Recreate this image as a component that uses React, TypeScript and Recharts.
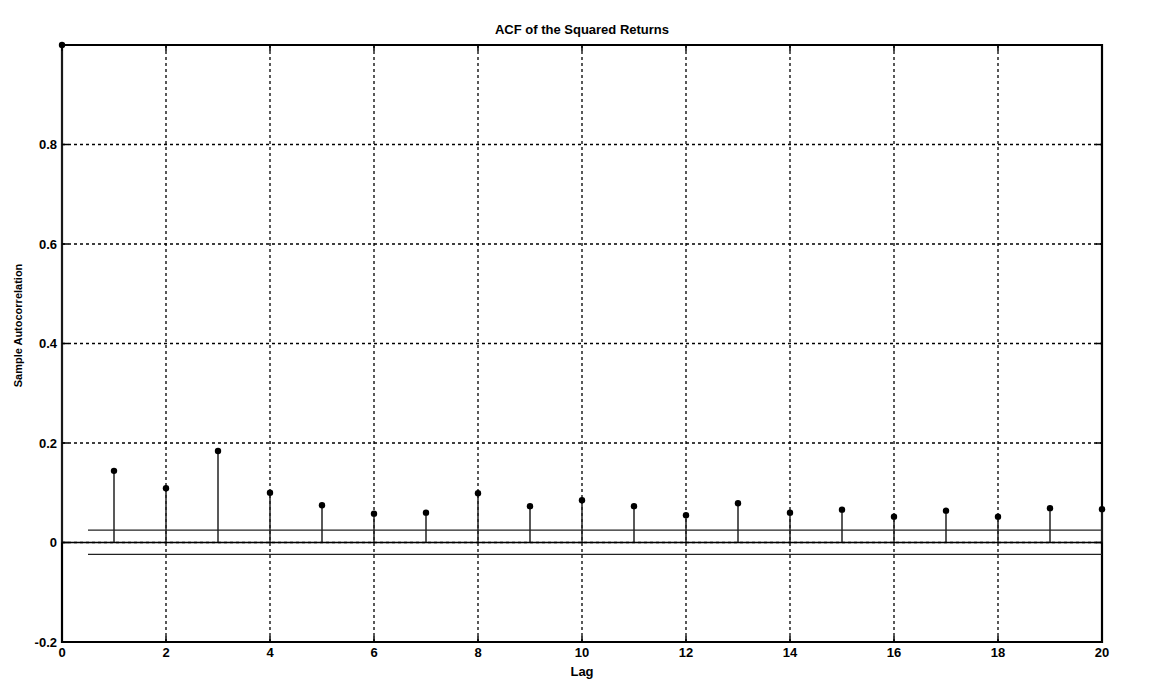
import React from 'react';
import { ComposedChart, Bar, XAxis, YAxis, CartesianGrid, ReferenceLine, ReferenceArea } from 'recharts';

const lags = [0, 1, 2, 3, 4, 5, 6, 7, 8, 9, 10, 11, 12, 13, 14, 15, 16, 17, 18, 19, 20];
const acf = [1, 0.144, 0.109, 0.184, 0.1, 0.075, 0.058, 0.06, 0.099, 0.073, 0.085, 0.073, 0.055, 0.079, 0.06, 0.066, 0.052, 0.064, 0.052, 0.069, 0.067];
const upperBound = 0.025;
const lowerBound = -0.024;
const boundStart = 0.5;

const xTicks = [0, 2, 4, 6, 8, 10, 12, 14, 16, 18, 20];
const yTicks = [-0.2, 0, 0.2, 0.4, 0.6, 0.8];
const xDomain: [number, number] = [0, 20];
const yDomain: [number, number] = [-0.2, 1];

const data = lags.map((lag, i) => ({ lag, acf: acf[i] }));

const FONT = '"Liberation Sans", Arial, sans-serif';

// stem: vertical line from the baseline up to the value, with a filled dot on top
const Stem = (props: any) => {
  const { x, y, width, height } = props;
  const cx = x + width / 2;
  return (
    <g>
      <line x1={cx} y1={y} x2={cx} y2={y + height} stroke="#222" strokeWidth={1.5} />
      <circle cx={cx} cy={y} r={3.2} fill="#000" />
    </g>
  );
};

const tickStyle = { fontSize: 13, fontWeight: 700, fill: '#000', fontFamily: FONT };

// rotated y-axis title, sitting a little above the middle of the plot
const YTitle = (props: any) => {
  const { viewBox } = props;
  const cx = viewBox.x + 18;
  const cy = viewBox.y + viewBox.height / 2 - 18;
  return (
    <text
      x={cx} y={cy} transform={`rotate(-90 ${cx} ${cy})`} textAnchor="middle" dominantBaseline="central"
      style={{ fontSize: 11, fontWeight: 700, fill: '#000', fontFamily: FONT }}
    >
      Sample Autocorrelation
    </text>
  );
};

export default function App() {
  // small inward tick marks on all four sides of the box
  const tx = 0.12;
  const ty = 0.012;
  return (
    <div style={{ position: 'absolute', left: 0, top: 0, width: 1156, height: 683, background: '#fff' }}>
      <div
        style={{
          position: 'absolute', left: 0, width: 1164, top: 22, textAlign: 'center',
          fontFamily: FONT, fontWeight: 700, fontSize: 13, color: '#000',
        }}
      >
        ACF of the Squared Returns
      </div>
      <ComposedChart
        width={1156}
        height={683}
        data={data}
        margin={{ top: 45, right: 54, bottom: 21, left: 0 }}
      >
        <CartesianGrid stroke="#000" strokeDasharray="3 3" strokeWidth={1.3} />
        <XAxis
          dataKey="lag"
          type="number"
          domain={xDomain}
          ticks={xTicks}
          height={20}
          tickSize={0}
          tickMargin={6}
          axisLine={false}
          tick={tickStyle}
          label={{ value: 'Lag', position: 'insideBottom', offset: -14, style: { ...tickStyle, fontSize: 13 } }}
        />
        <YAxis
          type="number"
          domain={yDomain}
          ticks={yTicks}
          width={62}
          tickSize={0}
          tickMargin={5}
          axisLine={false}
          tick={tickStyle}
          label={<YTitle />}
        />
        <ReferenceLine y={0} stroke="#000" strokeWidth={1.6} />
        <ReferenceLine
          segment={[{ x: boundStart, y: upperBound }, { x: xDomain[1], y: upperBound }]}
          stroke="#222" strokeWidth={1.3}
        />
        <ReferenceLine
          segment={[{ x: boundStart, y: lowerBound }, { x: xDomain[1], y: lowerBound }]}
          stroke="#222" strokeWidth={1.3}
        />
        {xTicks.map((v) => (
          <ReferenceLine key={'xb' + v} segment={[{ x: v, y: yDomain[0] }, { x: v, y: yDomain[0] + ty }]} stroke="#000" strokeWidth={1.5} />
        ))}
        {xTicks.map((v) => (
          <ReferenceLine key={'xt' + v} segment={[{ x: v, y: yDomain[1] }, { x: v, y: yDomain[1] - ty }]} stroke="#000" strokeWidth={1.5} />
        ))}
        {yTicks.map((v) => (
          <ReferenceLine key={'yl' + v} segment={[{ x: xDomain[0], y: v }, { x: xDomain[0] + tx, y: v }]} stroke="#000" strokeWidth={1.5} />
        ))}
        {yTicks.map((v) => (
          <ReferenceLine key={'yr' + v} segment={[{ x: xDomain[1], y: v }, { x: xDomain[1] - tx, y: v }]} stroke="#000" strokeWidth={1.5} />
        ))}
        <ReferenceArea
          x1={xDomain[0]} x2={xDomain[1]} y1={yDomain[0]} y2={yDomain[1]}
          fill="none" fillOpacity={0} stroke="#000" strokeWidth={2.2}
        />
        <Bar dataKey="acf" barSize={2} shape={<Stem />} isAnimationActive={false} />
      </ComposedChart>
    </div>
  );
}
